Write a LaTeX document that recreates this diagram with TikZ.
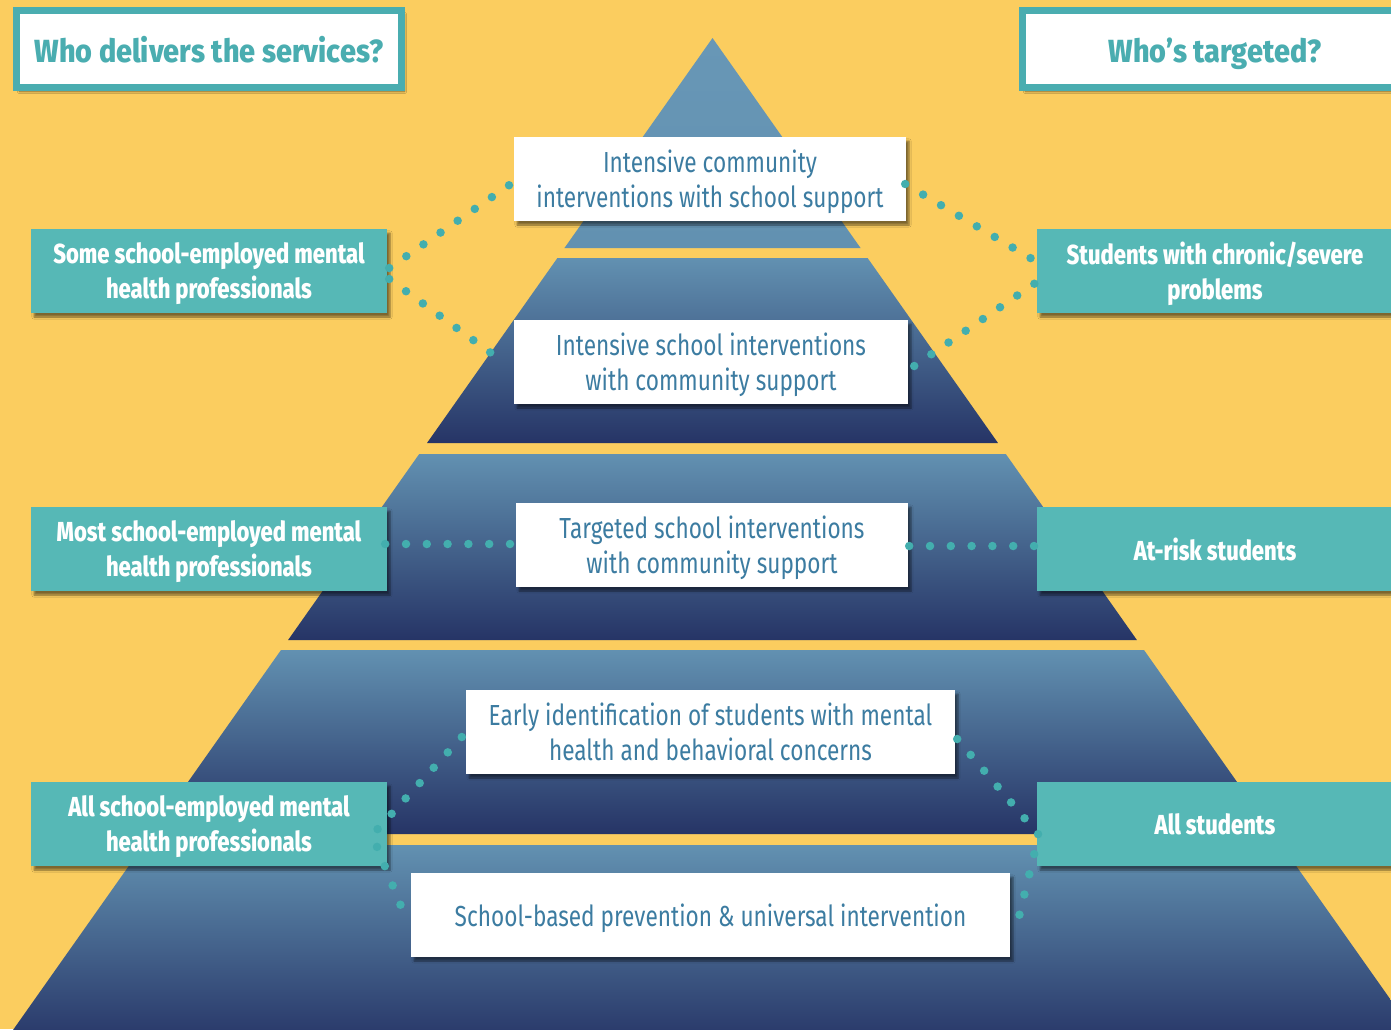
\documentclass[tikz,border=0pt]{standalone}
\usepackage{fontspec}
\setmainfont{Fira Sans}
\newfontfamily\titlef{Fira Sans ExtraBold}[FakeStretch=0.90]
\newfontfamily\sidef{Fira Sans ExtraBold}[FakeStretch=0.80]
\newfontfamily\tierf{Fira Sans}[FakeStretch=0.78]
\usetikzlibrary{shadows.blur,calc}
\definecolor{bgyellow}{HTML}{FBCD5F}
\definecolor{hdteal}{HTML}{4AADB0}
\definecolor{sideteal}{HTML}{56B8B6}
\definecolor{dotteal}{HTML}{43AEAE}
\definecolor{tiertext}{HTML}{3C7CA1}
\definecolor{pyrlight}{HTML}{6291B1}
\definecolor{pyrtop}{HTML}{6897B6}
\definecolor{pyrdark}{HTML}{263466}
\tikzset{
  boxshadow/.style={blur shadow={shadow xshift=3pt, shadow yshift=-4pt, shadow opacity=50, shadow blur steps=5}},
  titlebox/.style={draw=hdteal, line width=7pt, fill=white, inner sep=0pt,
    minimum width=385pt, minimum height=77pt, text=hdteal, text height=26pt, text depth=0pt,
    font=\titlef\fontsize{32}{38}\selectfont, boxshadow},
  sidebox/.style={fill=sideteal, inner sep=0pt, minimum width=356pt, minimum height=84pt,
    text=white, align=center, text depth=0pt, font=\sidef\fontsize{27.5}{35}\selectfont, boxshadow},
  tierbox/.style={fill=white, inner sep=0pt, minimum height=84pt, text=tiertext,
    align=center, text depth=0pt, font=\tierf\fontsize{29}{35}\selectfont, boxshadow},
  dots/.style={draw=dotteal, line width=8.5pt, line cap=round, dash pattern=on 0pt off 20.8pt},
  band/.style={top color=pyrlight, bottom color=pyrdark}
}
\begin{document}
\begin{tikzpicture}[x=1pt,y=-1pt]
\useasboundingbox (0,0) rectangle (1391,1029);
\fill[bgyellow] (0,0) rectangle (1391,1029);
\begin{scope}
\clip (0,0) rectangle (1391,1029);
% pyramid bands
\shade[top color=pyrtop, bottom color=pyrlight] (712.5,38) -- (860.55,248) -- (564.45,248) -- cycle;
\shade[band] (557.4,258) -- (867.6,258) -- (998.0,443) -- (427.0,443) -- cycle;
\shade[band] (419.2,454) -- (1005.8,454) -- (1136.9,640) -- (288.1,640) -- cycle;
\shade[band] (281.0,650) -- (1144.0,650) -- (1273.7,834) -- (151.3,834) -- cycle;
\shade[band] (143.6,845) -- (1281.4,845) -- (1424.0,1047) -- (1.0,1047) -- cycle;

% titles
\node[titlebox] (tl) at (209,49) {Who delivers the services?};
\node[titlebox] (tr) at (1215,49) {Who’s targeted?};

% side boxes
\node[sidebox] (l1) at (209,271) {Some school-employed mental\\health professionals};
\node[sidebox] (l2) at (209,549) {Most school-employed mental\\health professionals};
\node[sidebox] (l3) at (209,824) {All school-employed mental\\health professionals};
\node[sidebox] (r1) at (1215,271) {Students with chronic/severe\\problems};
\node[sidebox] (r2) at (1215,549) {At-risk students};
\node[sidebox] (r3) at (1215,824) {All students};

% tier boxes
\node[tierbox, minimum width=392pt] (a) at (710,179) {Intensive community\\interventions with school support};
\node[tierbox, minimum width=394pt] (b) at (711,362) {Intensive school interventions\\with community support};
\node[tierbox, minimum width=392pt] (c) at (712,545) {Targeted school interventions\\with community support};
\node[tierbox, minimum width=489pt] (d) at (710.5,732) {Early identification of students with mental\\health and behavioral concerns};
\node[tierbox, minimum width=599pt] (e) at (710.5,915) {School-based prevention \& universal intervention};

% dotted connectors
\draw[dots] ($(l1.east)+(2,-3)$) -- ($(a.west)+(-3,5)$);
\draw[dots] ($(l1.east)+(2,8)$) -- ($(b.west)+(-9,1)$);
\draw[dots] ($(a.east)+(-1,5)$) -- ($(r1.west)+(2,-8)$);
\draw[dots] ($(b.east)+(6,4)$) -- ($(r1.west)+(3,9)$);
\draw[dots] ($(l2.east)+(-2,-5)$) -- ($(c.west)+(-3,-1)$);
\draw[dots] ($(c.east)+(1,1)$) -- ($(r2.west)+(3,-3)$);
\draw[dots] ($(d.west)+(-4,5)$) -- ($(l3.east)+(-15,11)$) -- ($(e.west)+(-9,-7)$);
\draw[dots] ($(d.east)+(2,7)$) -- ($(r3.west)+(2,11)$) -- ($(e.east)+(8,5)$);
\end{scope}
\end{tikzpicture}
\end{document}
